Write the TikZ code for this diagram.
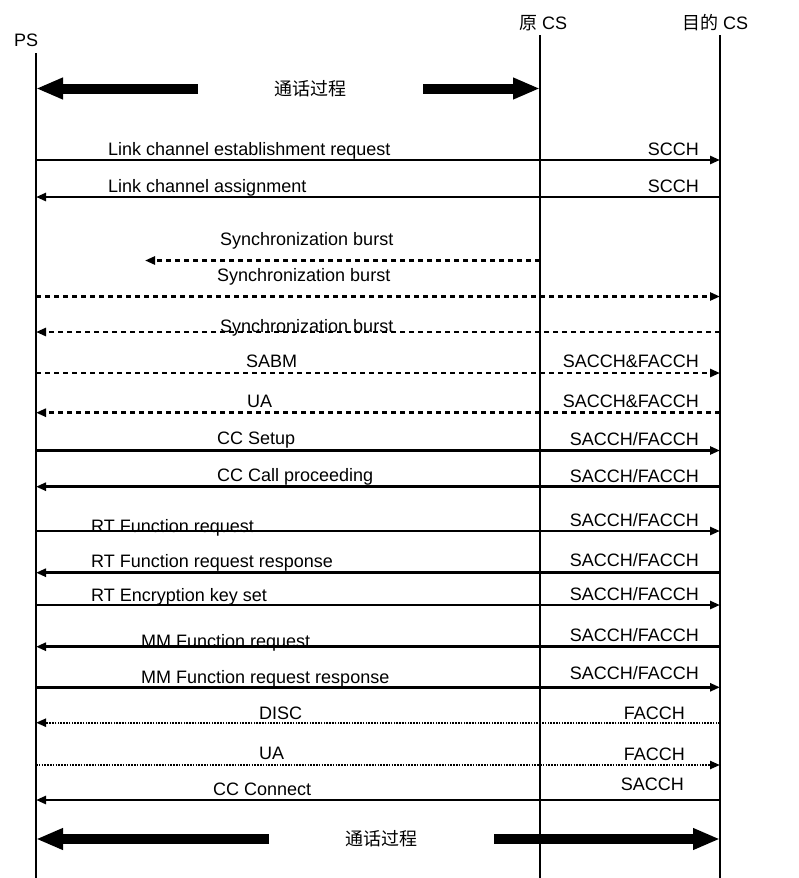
\documentclass[tikz,border=0pt]{standalone}
\usepackage{fontspec}
\setmainfont{Liberation Sans}
\newfontfamily\cjk{Noto Sans CJK SC}
\usetikzlibrary{arrows.meta}
\begin{document}
\begin{tikzpicture}[x=1pt,y=-1pt,
  font=\fontsize{18pt}{21pt}\selectfont,
  lbl/.style={inner sep=0pt,anchor=base west},
  rlbl/.style={inner sep=0pt,anchor=base east},
  life/.style={line width=1.7pt},
  msg/.style={line width=2.8pt,-{Triangle[length=10pt,width=8pt]}},
  dmsg/.style={msg,dash pattern=on 5pt off 4pt},
  omsg/.style={msg,line width=2.2pt,dash pattern=on 1.6pt off 1.2pt},
  big/.style={line width=10pt,-{Triangle[length=27pt,width=20pt]}}]
\useasboundingbox (0,0) rectangle (798,878);
% lifelines
\coordinate (ps) at (36,53);
\coordinate (ocs) at (540,35);
\coordinate (dcs) at (720,35);
\coordinate (psb) at (36,878);
\coordinate (ocsb) at (540,878);
\coordinate (dcsb) at (720,878);
\draw[life] (ps) -- (psb);
\draw[life] (ocs) -- (ocsb);
\draw[life] (dcs) -- (dcsb);
\node[lbl] (pslab) at (14,46.7) {PS};
\node[lbl] (ocslab) at (519,29.3) {{\cjk 原} CS};
\node[lbl] (dcslab) at (682,29.3) {{\cjk 目的} CS};
% top thick arrows
\node[inner sep=0pt] (talk1) at (310.5,88.5) {\cjk 通话过程};
\coordinate (t1a) at (198,88.5);
\coordinate (t1b) at (423,88.5);
\coordinate (y0) at (0,88.5);
\draw[big] (t1a) -- (ps|-y0);
\draw[big] (t1b) -- (ocs|-y0);
% messages
\coordinate (m1) at (0,160);
\draw[msg] (ps|-m1) -- (dcs|-m1);
\node[lbl] (l1) at (108,155.5) {Link channel establishment request};
\node[rlbl] (c1) at (699,155.5) {SCCH};
\coordinate (m2) at (0,197);
\draw[msg] (dcs|-m2) -- (ps|-m2);
\node[lbl] (l2) at (108,192) {Link channel assignment};
\node[rlbl] (c2) at (699,192) {SCCH};
\coordinate (m3) at (0,260.5);
\coordinate (s1end) at (145,260.5);
\draw[dmsg] (ocs|-m3) -- (s1end);
\node[lbl] (l3) at (220,245.7) {Synchronization burst};
\coordinate (m4) at (0,296.5);
\draw[dmsg] (ps|-m4) -- (dcs|-m4);
\node[lbl] (l4) at (217,281.7) {Synchronization burst};
\coordinate (m5) at (0,332);
\draw[dmsg] (dcs|-m5) -- (ps|-m5);
\node[lbl] (l5) at (220,332.3) {Synchronization burst};
\coordinate (m6) at (0,373);
\draw[dmsg] (ps|-m6) -- (dcs|-m6);
\node[lbl] (l6) at (246,367.5) {SABM};
\node[rlbl] (c6) at (699,367.5) {SACCH\&FACCH};
\coordinate (m7) at (0,412.7);
\draw[dmsg] (dcs|-m7) -- (ps|-m7);
\node[lbl] (l7) at (247,407.5) {UA};
\node[rlbl] (c7) at (699,407.5) {SACCH\&FACCH};
\coordinate (m8) at (0,450.5);
\draw[msg] (ps|-m8) -- (dcs|-m8);
\node[lbl] (l8) at (217,444) {CC Setup};
\node[rlbl] (c8) at (699,445) {SACCH/FACCH};
\coordinate (m9) at (0,486.7);
\draw[msg] (dcs|-m9) -- (ps|-m9);
\node[lbl] (l9) at (217,481) {CC Call proceeding};
\node[rlbl] (c9) at (699,482.7) {SACCH/FACCH};
\coordinate (m10) at (0,531);
\draw[msg] (ps|-m10) -- (dcs|-m10);
\node[lbl] (l10) at (91,532.7) {RT Function request};
\node[rlbl] (c10) at (699,526) {SACCH/FACCH};
\coordinate (m11) at (0,572.7);
\draw[msg] (dcs|-m11) -- (ps|-m11);
\node[lbl] (l11) at (91,567.7) {RT Function request response};
\node[rlbl] (c11) at (699,566.7) {SACCH/FACCH};
\coordinate (m12) at (0,605);
\draw[msg] (ps|-m12) -- (dcs|-m12);
\node[lbl] (l12) at (91,601.7) {RT Encryption key set};
\node[rlbl] (c12) at (699,600) {SACCH/FACCH};
\coordinate (m13) at (0,646.7);
\draw[msg] (dcs|-m13) -- (ps|-m13);
\node[lbl] (l13) at (141,647.7) {MM Function request};
\node[rlbl] (c13) at (699,641.7) {SACCH/FACCH};
\coordinate (m14) at (0,687.3);
\draw[msg] (ps|-m14) -- (dcs|-m14);
\node[lbl] (l14) at (141,683.3) {MM Function request response};
\node[rlbl] (c14) at (699,679.3) {SACCH/FACCH};
\coordinate (m15) at (0,722.7);
\draw[omsg] (dcs|-m15) -- (ps|-m15);
\node[lbl] (l15) at (259,719) {DISC};
\node[rlbl] (c15) at (685,719) {FACCH};
\coordinate (m16) at (0,765);
\draw[omsg] (ps|-m16) -- (dcs|-m16);
\node[lbl] (l16) at (259,759) {UA};
\node[rlbl] (c16) at (685,760.7) {FACCH};
\coordinate (m17) at (0,800);
\draw[msg] (dcs|-m17) -- (ps|-m17);
\node[lbl] (l17) at (213,795) {CC Connect};
\node[rlbl] (c17) at (684,790.7) {SACCH};
% bottom thick arrows
\node[inner sep=0pt] (talk2) at (381.5,838.5) {\cjk 通话过程};
\coordinate (t2a) at (269,839);
\coordinate (t2b) at (494,839);
\coordinate (y18) at (0,839);
\draw[big] (t2a) -- (ps|-y18);
\draw[big] (t2b) -- (dcs|-y18);
\end{tikzpicture}
\end{document}
